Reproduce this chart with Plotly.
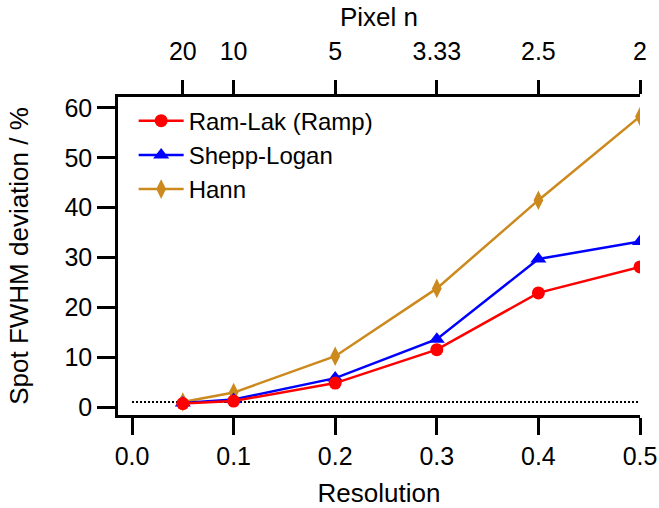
import plotly.graph_objects as go

resolution = [0.05, 0.1, 0.2, 0.3, 0.4, 0.5]
ram_lak = [0.7, 1.2, 4.8, 11.5, 22.9, 28.1]
shepp_logan = [0.8, 1.5, 5.8, 13.6, 29.7, 33.2]
hann = [1.0, 2.9, 10.2, 23.8, 41.5, 58.3]
x_ticks = [0.0, 0.1, 0.2, 0.3, 0.4, 0.5]
y_ticks = [0, 10, 20, 30, 40, 50, 60]
top_tickvals = [0.05, 0.1, 0.2, 0.3, 0.4, 0.5]
top_ticktext = ["20", "10", "5", "3.33", "2.5", "2"]
ref_x = [0.0, 0.5]
ref_y = [1.0, 1.0]

FONT = "Liberation Sans, Arial, sans-serif"
TITLE_FONT = dict(family=FONT, size=26, color="black")
fig = go.Figure()

fig.add_trace(go.Scatter(x=ref_x, y=ref_y, mode="lines", showlegend=False,
                         line=dict(color="black", width=2, dash="2px,2px")))
fig.add_trace(go.Scatter(x=resolution, y=hann, name="Hann", mode="lines+markers",
                         line=dict(color="#CC8A1E", width=2.5),
                         marker=dict(symbol="diamond-tall", size=14, color="#CC8A1E")))
fig.add_trace(go.Scatter(x=resolution, y=shepp_logan, name="Shepp-Logan", mode="lines+markers",
                         line=dict(color="#0000FF", width=2.5),
                         marker=dict(symbol="triangle-up", size=14, color="#0000FF")))
fig.add_trace(go.Scatter(x=resolution, y=ram_lak, name="Ram-Lak (Ramp)", mode="lines+markers",
                         line=dict(color="#FF0000", width=2.5),
                         marker=dict(symbol="circle", size=13, color="#FF0000")))
# invisible trace to drive top axis
fig.add_trace(go.Scatter(x=[0.5], y=[None], xaxis="x2", showlegend=False, hoverinfo="skip"))

fig.update_layout(
    width=659, height=508,
    margin=dict(l=118, r=19, t=97, b=93),
    paper_bgcolor="white", plot_bgcolor="white",
    font=dict(family=FONT, size=25, color="black"),
    showlegend=True,
    legend=dict(x=0.03, y=0.995, xanchor="left", yanchor="top", traceorder="reversed",
                itemwidth=45, bgcolor="rgba(0,0,0,0)", borderwidth=0, font=dict(size=24)),
    xaxis=dict(range=[-0.0138, 0.5], tickvals=x_ticks, ticktext=[f"{v:.1f}" for v in x_ticks],
               showgrid=False, zeroline=False, showline=True, linecolor="black", linewidth=2.5,
               ticks="outside", ticklen=17, tickwidth=2.5, tickcolor="black", automargin=False,
               title=dict(text="Resolution", standoff=17, font=TITLE_FONT)),
    xaxis2=dict(range=[-0.0138, 0.5], overlaying="x", side="top", tickvals=top_tickvals,
                ticktext=top_ticktext, showgrid=False, zeroline=False, showline=True,
                linecolor="black", linewidth=2.5, ticks="outside", ticklen=14, tickwidth=2.5,
                tickcolor="black", automargin=False, ticklabelstandoff=10,
                title=dict(text="Pixel n", standoff=4, font=TITLE_FONT)),
    yaxis=dict(range=[-1.6, 62.2], tickvals=y_ticks, showgrid=False, zeroline=False,
               showline=True, linecolor="black", linewidth=2.5, ticks="outside", ticklen=18,
               tickwidth=2.5, tickcolor="black", automargin=False,
               title=dict(text="Spot FWHM deviation / %", standoff=29, font=TITLE_FONT)),
)

fig.write_html("out.html")
